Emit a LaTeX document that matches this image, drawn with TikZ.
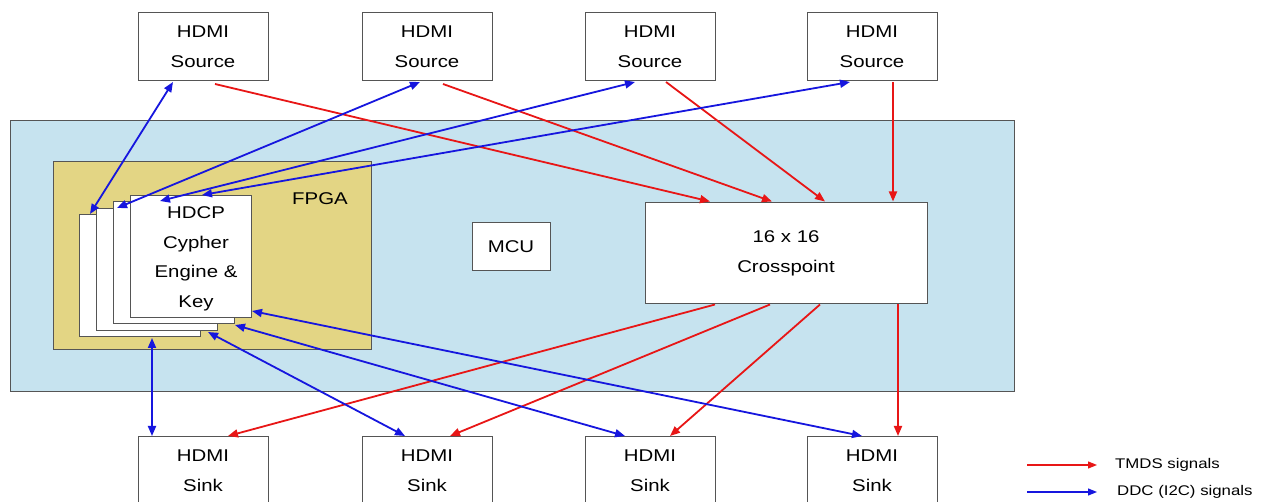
\documentclass[tikz,border=0pt]{standalone}
\usepackage{fontspec}
\setmainfont{Liberation Sans}[FakeStretch=1.2]
\usetikzlibrary{arrows.meta}
\definecolor{boardblue}{RGB}{198,227,239}
\definecolor{fpgayellow}{RGB}{227,213,132}
\definecolor{edgegray}{RGB}{85,85,85}
\definecolor{tmdsred}{RGB}{232,22,22}
\definecolor{ddcblue}{RGB}{22,22,222}
\tikzset{
  box/.style={draw=edgegray, line width=1pt, fill=white, inner sep=0pt, outer sep=0pt,
    align=center, font=\fontsize{17}{30}\selectfont},
  hdmibox/.style={box, minimum width=130pt, minimum height=68pt},
  cardbox/.style={box, minimum width=121pt, minimum height=122pt},
  tmds/.style={draw=tmdsred, line width=1.8pt, -{Triangle[length=10pt,width=8pt]}},
  ddc/.style={draw=ddcblue, line width=1.8pt, {Triangle[length=10pt,width=8pt]}-{Triangle[length=10pt,width=8pt]}},
  legtmds/.style={draw=tmdsred, line width=1.1pt, -{Triangle[length=9pt,width=7pt]}},
  legddc/.style={draw=ddcblue, line width=1.1pt, -{Triangle[length=9pt,width=7pt]}},
  legtext/.style={anchor=west, inner sep=0pt, font=\fontsize{14}{16}\selectfont}
}
\begin{document}
\begin{tikzpicture}[x=1pt,y=-1pt]
\clip (0,0) rectangle (1267,502);
\fill[white] (0,0) rectangle (1267,502);
% board and FPGA
\node[draw=edgegray, line width=1pt, fill=boardblue, inner sep=0pt, outer sep=0pt,
  minimum width=1004pt, minimum height=271pt, anchor=north west] (board) at (10,121) {};
\node[draw=edgegray, line width=1pt, fill=fpgayellow, inner sep=0pt, outer sep=0pt,
  minimum width=318pt, minimum height=188pt, anchor=north west] (fpga) at (53,162) {};
\node[font=\fontsize{17}{20}\selectfont, inner sep=0pt] (fpgalabel) at (320,199) {FPGA};
\node[box, minimum width=78pt, minimum height=48pt] (mcu) at (511,247) {MCU};
\node[box, minimum width=282pt, minimum height=101pt] (xp) at (786,253) {16 x 16\\Crosspoint};
% HDCP stack
\node[cardbox, anchor=north west] (h1) at (79,215) {};
\node[cardbox, anchor=north west] (h2) at (96,209) {};
\node[cardbox, anchor=north west] (h3) at (113,202) {};
\node[cardbox, anchor=north west] (h4) at (130,196) {};
\node[font=\fontsize{17}{29.5}\selectfont, align=center, inner sep=0pt] (hdcptext) at (196,259) {HDCP\\Cypher\\Engine \&\\Key};
% sources and sinks
\node[hdmibox] (s1) at (203,47) {HDMI\\Source};
\node[hdmibox] (s2) at (427,47) {HDMI\\Source};
\node[hdmibox] (s3) at (650,47) {HDMI\\Source};
\node[hdmibox] (s4) at (872,47) {HDMI\\Source};
\node[hdmibox] (k1) at (203,471) {HDMI\\Sink};
\node[hdmibox] (k2) at (427,471) {HDMI\\Sink};
\node[hdmibox] (k3) at (650,471) {HDMI\\Sink};
\node[hdmibox] (k4) at (872,471) {HDMI\\Sink};
% TMDS
\draw[tmds] ([xshift=12pt,yshift=-3pt]s1.south) -- ([xshift=-76pt,yshift=1pt]xp.north);
\draw[tmds] ([xshift=16pt,yshift=-3pt]s2.south) -- ([xshift=-14pt,yshift=1pt]xp.north);
\draw[tmds] ([xshift=16pt,yshift=-1pt]s3.south) -- ([xshift=39pt,yshift=1pt]xp.north);
\draw[tmds] ([xshift=21pt,yshift=-1pt]s4.south) -- ([xshift=107pt,yshift=1pt]xp.north);
\draw[tmds] ([xshift=-71pt,yshift=-1pt]xp.south) -- ([xshift=25pt,yshift=1pt]k1.north);
\draw[tmds] ([xshift=-16pt,yshift=-1pt]xp.south) -- ([xshift=23pt,yshift=1pt]k2.north);
\draw[tmds] ([xshift=34pt,yshift=-1pt]xp.south) -- ([xshift=20pt,yshift=1pt]k3.north);
\draw[tmds] ([xshift=112pt,yshift=-1pt]xp.south) -- ([xshift=26pt,yshift=1pt]k4.north);
% DDC
\draw[ddc] ([xshift=-30pt,yshift=-1pt]s1.south) -- ([xshift=11pt,yshift=1pt]h1.north west);
\draw[ddc] ([xshift=-7pt,yshift=-1pt]s2.south) -- ([xshift=21pt,yshift=1pt]h2.north west);
\draw[ddc] ([xshift=-15pt,yshift=-1pt]s3.south) -- ([xshift=47pt,yshift=1pt]h3.north west);
\draw[ddc] ([xshift=-22pt,yshift=-1pt]s4.south) -- ([xshift=72pt,yshift=1pt]h4.north west);
\draw[ddc] ([xshift=-51pt,yshift=1pt]k1.north) -- ([xshift=73pt,yshift=-1pt]h1.south west);
\draw[ddc] ([xshift=-22pt,yshift=1pt]k2.north) -- ([xshift=-9pt,yshift=-1pt]h2.south east);
\draw[ddc] ([xshift=-25pt,yshift=1pt]k3.north) -- ([xshift=1pt,yshift=-1pt]h3.south east);
\draw[ddc] ([xshift=-10pt,yshift=1pt]k4.north) -- ([xshift=1pt,yshift=7pt]h4.south east);
% legend
\coordinate (lt0) at (1027,465);
\coordinate (lt1) at (1097,465);
\coordinate (ld0) at (1027,492);
\coordinate (ld1) at (1097,492);
\draw[legtmds] (lt0) -- (lt1);
\draw[legddc] (ld0) -- (ld1);
\node[legtext] (ltext) at (1115,465) {TMDS signals};
\node[legtext] (ldtext) at (1117,492) {DDC (I2C) signals};
\end{tikzpicture}
\end{document}
